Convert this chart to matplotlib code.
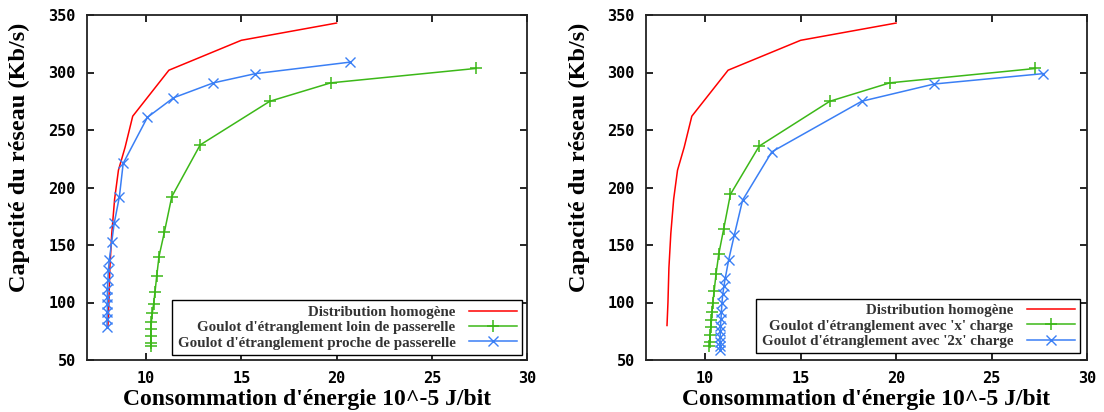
import matplotlib
matplotlib.use("Agg")
import matplotlib.pyplot as plt

# ---------------- data ----------------
# Shared: homogeneous distribution (red, no markers)
homog_x = [8.0, 8.05, 8.1, 8.2, 8.35, 8.55, 8.9, 9.3, 11.2, 15.0, 20.0]
homog_y = [80, 100, 130, 160, 190, 215, 235, 262, 302, 328, 343]

# Left panel
loin_x = [10.25, 10.25, 10.25, 10.26, 10.28, 10.33, 10.4, 10.47, 10.56, 10.68, 10.96, 11.35,
          12.84, 16.5, 19.7, 27.3]
loin_y = [62, 65, 71, 77, 83, 91, 99, 109, 123, 140, 161, 192,
          237, 275, 291, 303.5]
proche_x = [7.95, 7.95, 7.97, 7.97, 7.97, 7.97, 8.0, 8.02, 8.07, 8.2, 8.33, 8.6,
            8.8, 10.07, 11.44, 13.54, 15.74, 20.7]
proche_y = [79, 86, 92, 99, 105, 112, 120, 128, 137, 153, 169, 192,
            221, 261, 278, 291, 299, 309]

# Right panel
x_charge_x = [10.22, 10.24, 10.26, 10.3, 10.33, 10.36, 10.4, 10.47, 10.57, 10.71, 10.97, 11.32,
              12.83, 16.53, 19.67, 27.3]
x_charge_y = [62, 66, 72, 79, 85, 92, 100, 110, 125, 142, 164, 194,
              236, 275, 291, 303.5]
x2_charge_x = [10.8, 10.8, 10.78, 10.78, 10.8, 10.8, 10.83, 10.85, 10.88, 10.92, 10.98, 11.05,
               11.23, 11.53, 11.96, 13.49, 18.2, 22.0, 27.7]
x2_charge_y = [59, 62, 66, 70, 75, 80, 86, 92, 100, 107, 114, 121,
               137, 159, 189, 231, 275, 290, 299]

xticks = [10, 15, 20, 25, 30]
yticks = [50, 100, 150, 200, 250, 300, 350]

labels_left = ["Distribution homogène",
               "Goulot d'étranglement loin de passerelle",
               "Goulot d'étranglement proche de passerelle"]
labels_right = ["Distribution homogène",
                "Goulot d'étranglement avec 'x' charge",
                "Goulot d'étranglement avec '2x' charge"]
xlabel = "Consommation d'énergie 10^-5 J/bit"
ylabel = "Capacité du réseau (Kb/s)"

RED = "#ff0000"
GREEN = "#3cb818"
BLUE = "#3a7ff5"

fig = plt.figure(figsize=(11.04, 4.12), dpi=100)
ax1 = fig.add_axes([87 / 1104, 52 / 412, 440 / 1104, 345 / 412])
ax2 = fig.add_axes([646 / 1104, 52 / 412, 441 / 1104, 345 / 412])

serif = {"family": "Liberation Serif", "weight": "bold"}


def style(ax, leg_anchor, series, ylab_x):
    (g_x, g_y, g_lab), (b_x, b_y, b_lab), r_lab = series
    ax.plot(homog_x, homog_y, color=RED, lw=1.1, label=r_lab)
    ax.plot(g_x, g_y, color=GREEN, lw=1.1, marker="+", ms=9, mew=1.1, label=g_lab)
    ax.plot(b_x, b_y, color=BLUE, lw=1.1, marker="x", ms=7.5, mew=1.0, label=b_lab)
    ax.set_xlim(6.9, 30)
    ax.set_ylim(50, 350)
    ax.set_xticks(xticks)
    ax.set_yticks(yticks)
    ax.tick_params(direction="in", top=True, right=True, length=5, width=1.2,
                   labelsize=11, pad=8)
    for lab in ax.get_xticklabels() + ax.get_yticklabels():
        lab.set_family("DejaVu Sans Mono")
        lab.set_weight("bold")
    for sp in ax.spines.values():
        sp.set_linewidth(1.3)
        sp.set_color("#222222")
    ax.set_xlabel(xlabel, fontdict=dict(serif, size=17), labelpad=2)
    ax.set_ylabel(ylabel, fontdict=dict(serif, size=17.5))
    ax.yaxis.set_label_coords(ylab_x, 0.587)
    leg = ax.legend(loc="lower right", bbox_to_anchor=leg_anchor, borderaxespad=0,
                    markerfirst=False, fancybox=False, framealpha=1, edgecolor="black",
                    prop={"family": "Liberation Serif", "weight": "bold", "size": 10.8},
                    handlelength=3.2, labelspacing=0.12, borderpad=0.35, handletextpad=0.9)
    leg.get_frame().set_linewidth(1.0)
    for t in leg.get_texts():
        t.set_color("#333333")


style(ax1, (0.989, 0.0145),
      ((loin_x, loin_y, labels_left[1]), (proche_x, proche_y, labels_left[2]), labels_left[0]),
      -0.13)
style(ax2, (0.984, 0.02),
      ((x_charge_x, x_charge_y, labels_right[1]), (x2_charge_x, x2_charge_y, labels_right[2]), labels_right[0]),
      -0.127)

fig.savefig("out.png", dpi=100)
